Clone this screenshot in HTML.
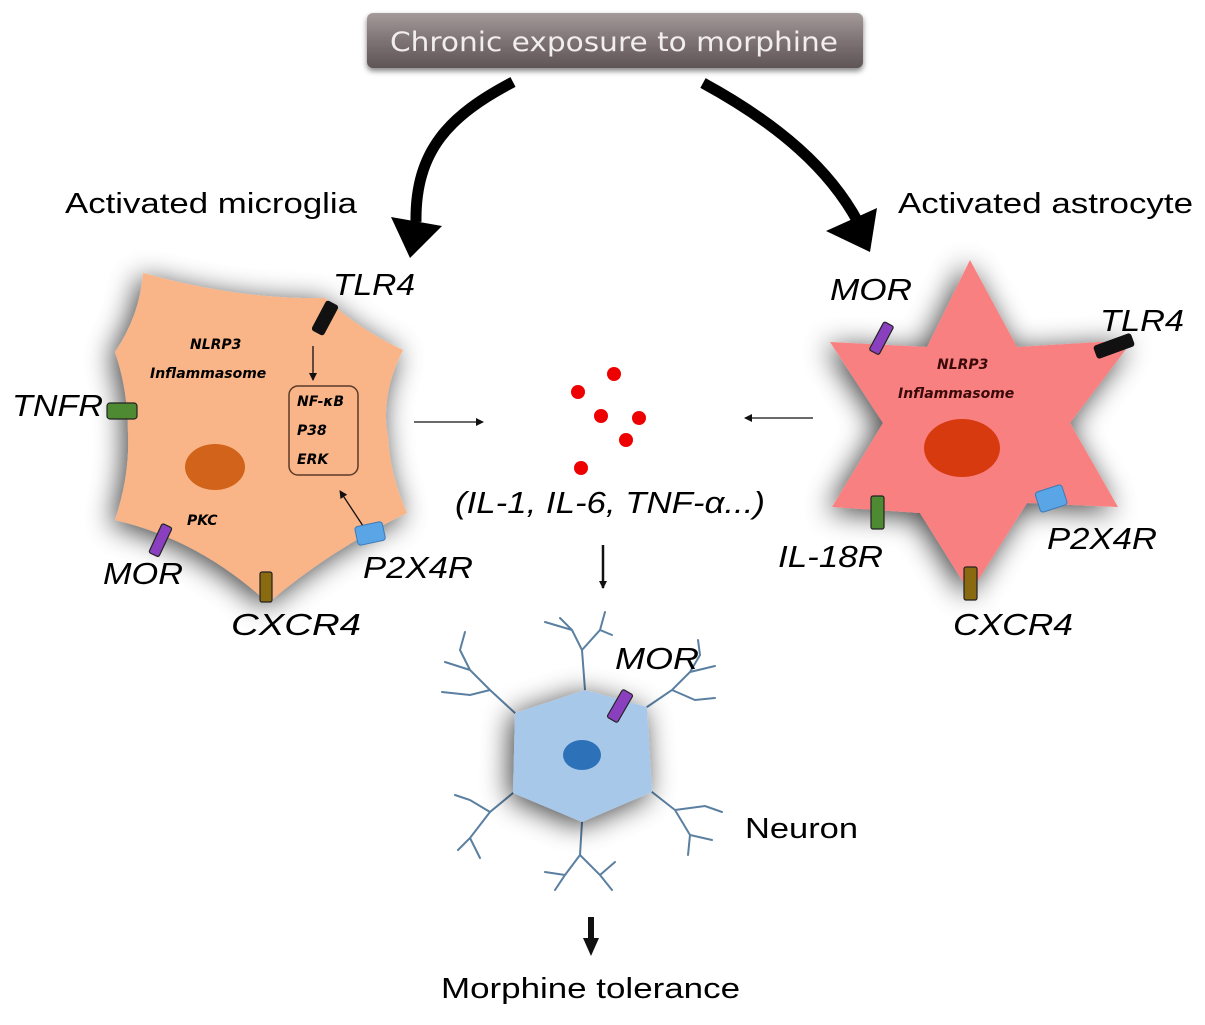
<!DOCTYPE html>
<html><head><meta charset="utf-8"><style>
html,body{margin:0;padding:0;background:#fff;}
svg text{font-family:"Liberation Sans",sans-serif;}
.it{font-style:italic;}
.b{font-family:"DejaVu Sans",sans-serif !important;font-weight:bold;font-style:italic;}
</style></head><body>
<svg width="1205" height="1020" viewBox="0 0 1205 1020" xmlns="http://www.w3.org/2000/svg">
<defs>
<linearGradient id="tg" x1="0" y1="0" x2="0" y2="1">
<stop offset="0" stop-color="#a49a9a"/><stop offset="0.5" stop-color="#7e7374"/><stop offset="1" stop-color="#5f5556"/></linearGradient>
<filter id="sh" x="-30%" y="-30%" width="160%" height="160%"><feGaussianBlur in="SourceAlpha" stdDeviation="14"/><feOffset dx="-4" dy="4"/><feComponentTransfer><feFuncA type="linear" slope="0.75"/></feComponentTransfer><feMerge><feMergeNode/><feMergeNode in="SourceGraphic"/></feMerge></filter>
<filter id="sh2" x="-10%" y="-30%" width="120%" height="160%"><feGaussianBlur in="SourceAlpha" stdDeviation="3"/><feOffset dy="3"/><feComponentTransfer><feFuncA type="linear" slope="0.5"/></feComponentTransfer><feMerge><feMergeNode/><feMergeNode in="SourceGraphic"/></feMerge></filter>
<marker id="ah" markerWidth="8" markerHeight="8" refX="7" refY="4" orient="auto" markerUnits="userSpaceOnUse"><path d="M0,0 L8,4 L0,8 z" fill="#111"/></marker>
</defs>

<rect x="367" y="13" width="496" height="55" rx="6" fill="url(#tg)" filter="url(#sh2)"/>
<text x="390" y="51" font-size="27" fill="#f2eeee" textLength="448" lengthAdjust="spacingAndGlyphs" style="font-family:'DejaVu Sans',sans-serif">Chronic exposure to morphine</text>

<path d="M513,82 C450,115 415,150 416,222" fill="none" stroke="#000" stroke-width="11"/>
<polygon points="391,217 442,226 410,258" fill="#000"/>
<path d="M703,83 C780,125 830,170 858,222" fill="none" stroke="#000" stroke-width="11"/>
<polygon points="826,231 877,208 870,252" fill="#000"/>

<text x="65" y="213" font-size="29" textLength="292" lengthAdjust="spacingAndGlyphs">Activated microglia</text>
<text x="898" y="213" font-size="29" textLength="295" lengthAdjust="spacingAndGlyphs">Activated astrocyte</text>

<!-- microglia -->
<path d="M143,273 Q240,300 325,298 Q360,330 403,350 Q380,395 388,437 Q390,475 407,513 Q330,550 268,603 Q200,540 115,520 Q130,475 128,433 Q128,390 115,352 Q140,315 143,273 Z" fill="#f9b487" filter="url(#sh)"/>
<ellipse cx="215" cy="467" rx="30" ry="23" fill="#d2631a"/>
<rect x="289" y="386" width="69" height="89" rx="9" fill="none" stroke="#5a3a28" stroke-width="1.5"/>
<text class="b" x="190" y="349" font-size="14">NLRP3</text>
<text class="b" x="150" y="378" font-size="14">Inflammasome</text>
<text class="b" x="297" y="406" font-size="14">NF-κB</text>
<text class="b" x="297" y="435" font-size="14">P38</text>
<text class="b" x="297" y="464" font-size="14">ERK</text>
<text class="b" x="187" y="525" font-size="14">PKC</text>
<line x1="313" y1="346" x2="313" y2="380" stroke="#111" stroke-width="1.3" marker-end="url(#ah)"/>
<line x1="369" y1="535" x2="340" y2="491" stroke="#111" stroke-width="1.3" marker-end="url(#ah)"/>
<rect x="318" y="301" width="14" height="34" rx="3" fill="#111" transform="rotate(28 325 318)"/>
<rect x="107" y="403" width="30" height="16" rx="3" fill="#4e8a32" stroke="#222" stroke-width="1.2"/>
<rect x="155" y="524" width="11" height="32" rx="2" fill="#8a3fbf" stroke="#222" stroke-width="1.2" transform="rotate(25 160 540)"/>
<rect x="260" y="572" width="12" height="30" rx="2" fill="#8a6a10" stroke="#222" stroke-width="1.2"/>
<rect x="356" y="524" width="28" height="19" rx="3" fill="#5aa5e6" stroke="#3a7ab8" stroke-width="1" transform="rotate(-12 370 533)"/>
<text class="it" x="333" y="295" font-size="31" textLength="82" lengthAdjust="spacingAndGlyphs">TLR4</text>
<text class="it" x="12" y="416" font-size="31" textLength="91" lengthAdjust="spacingAndGlyphs">TNFR</text>
<text class="it" x="103" y="584" font-size="31" textLength="80" lengthAdjust="spacingAndGlyphs">MOR</text>
<text class="it" x="231" y="635" font-size="31" textLength="130" lengthAdjust="spacingAndGlyphs">CXCR4</text>
<text class="it" x="363" y="578" font-size="31" textLength="110" lengthAdjust="spacingAndGlyphs">P2X4R</text>

<!-- astrocyte -->
<polygon points="970,260 1017,347 1133,340 1070,423 1118,507 1027,503 970,593 920,513 832,507 883,423 830,342 927,347" fill="#f98080" filter="url(#sh)"/>
<ellipse cx="962" cy="448" rx="38" ry="29" fill="#d83a10"/>
<text class="b" x="937" y="369" font-size="14" fill="#3a0a0a">NLRP3</text>
<text class="b" x="898" y="398" font-size="14" fill="#3a0a0a">Inflammasome</text>
<rect x="876" y="322" width="11" height="32" rx="2" fill="#8a3fbf" stroke="#222" stroke-width="1.2" transform="rotate(28 881 338)"/>
<rect x="1094" y="339" width="40" height="14" rx="3" fill="#111" transform="rotate(-20 1114 346)"/>
<rect x="871" y="496" width="13" height="33" rx="2" fill="#4e8a32" stroke="#222" stroke-width="1.2"/>
<rect x="964" y="567" width="13" height="33" rx="2" fill="#8a6a10" stroke="#222" stroke-width="1.2"/>
<rect x="1037" y="488" width="28" height="21" rx="3" fill="#5aa5e6" stroke="#3a7ab8" stroke-width="1" transform="rotate(-18 1051 498)"/>
<text class="it" x="830" y="300" font-size="31" textLength="82" lengthAdjust="spacingAndGlyphs">MOR</text>
<text class="it" x="1100" y="331" font-size="31" textLength="84" lengthAdjust="spacingAndGlyphs">TLR4</text>
<text class="it" x="778" y="567" font-size="31" textLength="105" lengthAdjust="spacingAndGlyphs">IL-18R</text>
<text class="it" x="1047" y="549" font-size="31" textLength="110" lengthAdjust="spacingAndGlyphs">P2X4R</text>
<text class="it" x="953" y="635" font-size="31" textLength="120" lengthAdjust="spacingAndGlyphs">CXCR4</text>

<g fill="#ee0000">
<circle cx="614" cy="374" r="7"/><circle cx="578" cy="392" r="7"/><circle cx="601" cy="416" r="7"/>
<circle cx="639" cy="418" r="7"/><circle cx="626" cy="440" r="7"/><circle cx="581" cy="468" r="7"/>
</g>
<text class="it" x="455" y="513" font-size="31" textLength="310" lengthAdjust="spacingAndGlyphs">(IL-1, IL-6, TNF-α...)</text>
<line x1="414" y1="422" x2="483" y2="422" stroke="#111" stroke-width="1.3" marker-end="url(#ah)"/>
<line x1="813" y1="418" x2="745" y2="418" stroke="#111" stroke-width="1.3" marker-end="url(#ah)"/>
<line x1="603" y1="545" x2="603" y2="588" stroke="#111" stroke-width="2.5" marker-end="url(#ah)"/>

<g fill="none" stroke="#5a7fa0" stroke-width="2" stroke-linecap="round">
<path d="M585,690 L582,650 L572,630 L560,618 M582,650 L600,630 L605,612 M572,630 L545,622 M600,630 L612,635"/>
<path d="M515,713 L490,690 L470,670 L460,650 M490,690 L470,695 L442,692 M470,670 L445,662 M460,650 L465,632"/>
<path d="M647,707 L672,690 L690,672 L700,655 M672,690 L695,700 L715,698 M690,672 L715,666 M700,655 L698,640"/>
<path d="M652,792 L675,810 L690,835 L712,840 M675,810 L705,806 L722,812 M690,835 L688,855"/>
<path d="M513,793 L490,812 L470,838 L458,850 M490,812 L470,800 L455,795 M470,838 L480,858"/>
<path d="M582,822 L580,855 L565,875 L555,890 M580,855 L600,875 L612,890 M565,875 L545,872 M600,875 L615,862"/>
</g>
<polygon points="585,690 647,707 652,792 582,822 513,793 515,713" fill="#a8c8ea" filter="url(#sh)"/>
<ellipse cx="582" cy="755" rx="19" ry="15" fill="#2d72b8"/>
<rect x="614" y="690" width="12" height="32" rx="2" fill="#8a3fbf" stroke="#222" stroke-width="1.2" transform="rotate(30 620 706)"/>
<text class="it" x="615" y="669" font-size="31" textLength="84" lengthAdjust="spacingAndGlyphs">MOR</text>
<text x="745" y="838" font-size="29" textLength="113" lengthAdjust="spacingAndGlyphs">Neuron</text>

<line x1="591" y1="917" x2="591" y2="940" stroke="#111" stroke-width="6"/>
<polygon points="583,938 599,938 591,956" fill="#111"/>
<text x="441" y="998" font-size="29" textLength="299" lengthAdjust="spacingAndGlyphs">Morphine tolerance</text>
</svg>
</body></html>
